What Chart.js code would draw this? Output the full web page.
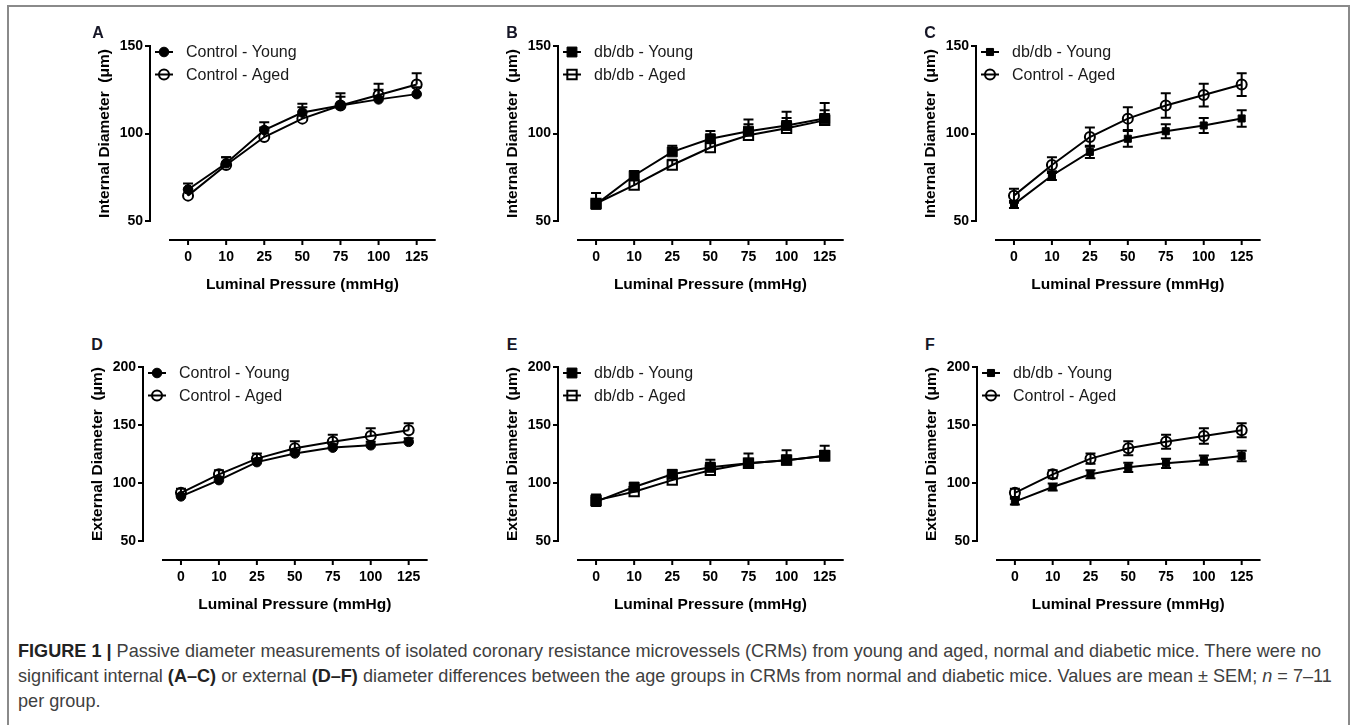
<!DOCTYPE html>
<html>
<head>
<meta charset="utf-8">
<script src="https://cdn.jsdelivr.net/npm/chart.js@4.4.1/dist/chart.umd.min.js"></script>
<style>
  html, body { margin: 0; padding: 0; background: #fff; }
  body { width: 1357px; height: 725px; position: relative; overflow: hidden; font-family: "Liberation Sans", Arial, sans-serif; }
  .frame { position: absolute; left: 7px; top: 5px; width: 1343px; height: 760px; border: 2px solid #8a8a8a; box-sizing: border-box; }
  .panel { position: absolute; }
  .letter { position: absolute; font: bold 16px "Liberation Sans", Arial, sans-serif; color: #161626; line-height: 20px; height: 20px; width: 20px; text-align: center; }
  .caption { position: absolute; left: 18px; top: 639px; font-size: 18.1px; line-height: 25px; color: #404040; white-space: nowrap; }
  .caption b { color: #222; }
</style>
</head>
<body>
<div class="frame"></div>
<div id="panels"></div>
<div class="caption">
  <b>FIGURE 1 |</b> Passive diameter measurements of isolated coronary resistance microvessels (CRMs) from young and aged, normal and diabetic mice. There were no<br>
  significant internal <b>(A–C)</b> or external <b>(D–F)</b> diameter differences between the age groups in CRMs from normal and diabetic mice. Values are mean ± SEM; <i>n</i> = 7–11<br>
  per group.
</div>
<script>
'use strict';

// ── data (µm) ──
const pressures = ['0', '10', '25', '50', '75', '100', '125'];

const ctrlYoungInt    = [68, 83, 102, 112, 116, 119.5, 122.5];
const ctrlYoungIntSem = [3.5, 3.5, 4.5, 5, 5, 5.5, 4];
const ctrlAgedInt     = [64.5, 82, 98, 108.5, 116, 122, 128];
const ctrlAgedIntSem  = [4, 4.5, 5.5, 6.5, 7, 6.5, 6.5];
const dbYoungInt      = [59.5, 76, 89.5, 97, 101.3, 104.6, 108.6];
const dbYoungIntSem   = [2, 2.5, 3.5, 4.5, 4, 4.3, 4.7];
const dbAgedInt       = [60, 70.5, 82, 92, 99, 103, 107.5];
const dbAgedIntSem    = [6, 3, 3, 4, 9, 9.5, 10];

const ctrlYoungExt    = [88.5, 102.5, 118, 125.5, 130.5, 132.5, 135.5];
const ctrlYoungExtSem = [2, 2.5, 3, 3, 3, 3, 3];
const ctrlAgedExt     = [91.5, 107.5, 121, 130, 135.5, 140.5, 145.5];
const ctrlAgedExtSem  = [3.5, 3.5, 4.5, 6, 6, 6.6, 6];
const dbYoungExt      = [84, 96.5, 107.5, 113.5, 117, 119.7, 123.2];
const dbYoungExtSem   = [2.5, 3, 3.5, 4, 4, 4, 4.5];
const dbAgedExt       = [85, 92.5, 102.5, 111, 117, 119.7, 123.5];
const dbAgedExtSem    = [5, 3, 3, 9, 8.5, 8.6, 8.6];

const internalTicks = [50, 100, 150];
const externalTicks = [50, 100, 150, 200];

// ── marker looks (Prism style) ──
const mk = {
  ctrlYoung: { pointStyle: 'circle', pointRadius: 4.8, pointBorderWidth: 1, pointBackgroundColor: '#000' },
  ctrlAged:  { pointStyle: 'circle', pointRadius: 5,   pointBorderWidth: 2, pointBackgroundColor: 'rgba(0,0,0,0)' },
  dbYoung:   { pointStyle: 'rect',   pointRadius: 7,   pointBorderWidth: 1, pointBackgroundColor: '#000' },
  dbAged:    { pointStyle: 'rect',   pointRadius: 6.6, pointBorderWidth: 2, pointBackgroundColor: 'rgba(0,0,0,0)' },
  dbYoungSm: { pointStyle: 'rect',   pointRadius: 5,   pointBorderWidth: 1, pointBackgroundColor: '#000' }
};

function ser(label, data, sem, look) {
  return Object.assign({ label, data, sem, borderColor: '#000', borderWidth: 2, pointBorderColor: '#000', tension: 0, fill: false }, look);
}

// axisX/top/right/bottom = wanted chart-area edges on the page
const panels = [
  { letter: 'A', lx: 98,  ly: 33,  axisX: 150,   top: 45.7,  right: 442,  bottom: 221,   ticks: internalTicks, title: 'Internal Diameter  (μm)', both: false,
    sets: [ser('Control - Young', ctrlYoungInt, ctrlYoungIntSem, mk.ctrlYoung), ser('Control - Aged', ctrlAgedInt, ctrlAgedIntSem, mk.ctrlAged)] },
  { letter: 'B', lx: 512, ly: 33,  axisX: 557.7, top: 45.7,  right: 850,  bottom: 221,   ticks: internalTicks, title: 'Internal Diameter  (μm)', both: false,
    sets: [ser('db/db - Young', dbYoungInt, dbYoungIntSem, mk.dbYoung), ser('db/db - Aged', dbAgedInt, dbAgedIntSem, mk.dbAged)] },
  { letter: 'C', lx: 930, ly: 33,  axisX: 976,   top: 45.7,  right: 1267, bottom: 221,   ticks: internalTicks, title: 'Internal Diameter  (μm)', both: true,
    sets: [ser('db/db - Young', dbYoungInt, dbYoungIntSem, mk.dbYoungSm), ser('Control - Aged', ctrlAgedInt, ctrlAgedIntSem, mk.ctrlAged)] },
  { letter: 'D', lx: 97,  ly: 345, axisX: 143,   top: 366.7, right: 434,  bottom: 540.7, ticks: externalTicks, title: 'External Diameter  (μm)', both: false,
    sets: [ser('Control - Young', ctrlYoungExt, ctrlYoungExtSem, mk.ctrlYoung), ser('Control - Aged', ctrlAgedExt, ctrlAgedExtSem, mk.ctrlAged)] },
  { letter: 'E', lx: 512, ly: 345, axisX: 557.7, top: 366.7, right: 850,  bottom: 540.7, ticks: externalTicks, title: 'External Diameter  (μm)', both: false,
    sets: [ser('db/db - Young', dbYoungExt, dbYoungExtSem, mk.dbYoung), ser('db/db - Aged', dbAgedExt, dbAgedExtSem, mk.dbAged)] },
  { letter: 'F', lx: 930, ly: 345, axisX: 976.7, top: 366.7, right: 1267, bottom: 540.7, ticks: externalTicks, title: 'External Diameter  (μm)', both: true,
    sets: [ser('db/db - Young', dbYoungExt, dbYoungExtSem, mk.dbYoungSm), ser('Control - Aged', ctrlAgedExt, ctrlAgedExtSem, mk.ctrlAged)] }
];

const Y_W = 62, X_H = 82, PAD_T = 12, PAD_R = 14, X_GAP = 19;

function marker(ctx, style, r, bw, fillCol, x, y) {
  ctx.save();
  ctx.beginPath();
  if (style === 'rect') { const s = Math.SQRT1_2 * r; ctx.rect(x - s, y - s, 2 * s, 2 * s); }
  else ctx.arc(x, y, r, 0, Math.PI * 2);
  ctx.fillStyle = fillCol; ctx.fill();
  ctx.lineWidth = bw; ctx.strokeStyle = '#000'; ctx.stroke();
  ctx.restore();
}

// Prism look: detached x axis, error bars, line+marker legend
const prismPlugin = {
  id: 'prism',
  afterLayout(chart) {
    const x = chart.scales.x;
    x.left = chart.chartArea.left + X_GAP;
    x.width = x.right - x.left;
    x.configure();
  },
  beforeDatasetsDraw(chart) {
    const { ctx, scales: { x, y } } = chart;
    const both = chart.options.plugins.prism.both;
    ctx.save();
    ctx.strokeStyle = '#000'; ctx.lineWidth = 2;
    chart.data.datasets.forEach(ds => {
      ds.data.forEach((v, j) => {
        const px = x.getPixelForValue(j);
        const top = y.getPixelForValue(v + ds.sem[j]);
        const bot = both ? y.getPixelForValue(v - ds.sem[j]) : y.getPixelForValue(v);
        ctx.beginPath();
        ctx.moveTo(px, top); ctx.lineTo(px, bot);
        ctx.moveTo(px - 5, top); ctx.lineTo(px + 5, top);
        if (both) { ctx.moveTo(px - 5, bot); ctx.lineTo(px + 5, bot); }
        ctx.stroke();
      });
    });
    ctx.restore();
  },
  afterDraw(chart) {
    const { ctx, chartArea: ca, scales: { x } } = chart;
    ctx.save();
    // x axis line + downward ticks
    const ay = ca.bottom + X_GAP;
    ctx.strokeStyle = '#000'; ctx.lineWidth = 2;
    ctx.beginPath();
    ctx.moveTo(x.left, ay); ctx.lineTo(x.right, ay);
    x.ticks.forEach((t, i) => { const px = x.getPixelForTick(i); ctx.moveTo(px, ay); ctx.lineTo(px, ay + 5); });
    ctx.stroke();
    // legend
    chart.data.datasets.forEach((ds, i) => {
      const ly = ca.top + 6 + i * 22.5;
      const lx = ca.left + 5;
      ctx.strokeStyle = '#000'; ctx.lineWidth = 2;
      ctx.beginPath(); ctx.moveTo(lx, ly); ctx.lineTo(lx + 18, ly); ctx.stroke();
      marker(ctx, ds.pointStyle, ds.pointRadius, ds.pointBorderWidth, ds.pointBackgroundColor, lx + 9, ly);
      ctx.fillStyle = '#1a1a1a';
      ctx.font = '16px "Liberation Sans", Arial, sans-serif';
      ctx.textBaseline = 'middle'; ctx.textAlign = 'left';
      ctx.fillText(ds.label, ca.left + 36, ly + 1);
    });
    ctx.restore();
  }
};

const host = document.getElementById('panels');
panels.forEach(p => {
  const left = p.axisX - Y_W, top = p.top - PAD_T;
  const w = Math.round(p.right - left + PAD_R), h = Math.round(p.bottom + X_H - top);
  const wrap = document.createElement('div');
  wrap.className = 'panel';
  wrap.style.left = left + 'px'; wrap.style.top = top + 'px';
  wrap.style.width = w + 'px'; wrap.style.height = h + 'px';
  const cv = document.createElement('canvas');
  cv.width = w; cv.height = h;
  wrap.appendChild(cv);
  host.appendChild(wrap);

  const let_ = document.createElement('div');
  let_.className = 'letter';
  let_.textContent = p.letter;
  let_.style.left = (p.lx - 10) + 'px'; let_.style.top = (p.ly - 10) + 'px';
  document.body.appendChild(let_);

  const tickFont = { family: '"Liberation Sans", Arial, sans-serif', size: 14, weight: 'bold' };
  const titleFont = { family: '"Liberation Sans", Arial, sans-serif', size: 15.5, weight: 'bold' };

  new Chart(cv, {
    type: 'line',
    data: { labels: pressures, datasets: p.sets },
    plugins: [prismPlugin],
    options: {
      responsive: false,
      animation: false,
      events: [],
      layout: { padding: { top: PAD_T, right: PAD_R, left: 0, bottom: 0 } },
      plugins: { legend: { display: false }, tooltip: { enabled: false }, prism: { both: p.both } },
      scales: {
        x: {
          type: 'category',
          offset: true,
          grid: { display: false, drawTicks: false },
          border: { display: false },
          ticks: { color: '#000', font: tickFont, padding: 28, maxRotation: 0, autoSkip: false },
          title: { display: true, text: 'Luminal Pressure (mmHg)', color: '#000', font: titleFont, padding: { top: 0, bottom: 9 } },
          afterFit: s => { s.height = X_H; }
        },
        y: {
          min: p.ticks[0],
          max: p.ticks[p.ticks.length - 1],
          afterBuildTicks: s => { s.ticks = p.ticks.map(v => ({ value: v })); },
          grid: { display: true, drawOnChartArea: false, drawTicks: true, tickLength: 5, color: '#000', lineWidth: 2 },
          border: { display: true, color: '#000', width: 2 },
          ticks: { color: '#000', font: tickFont, padding: 2 },
          title: { display: true, text: p.title, color: '#000', font: titleFont, padding: { top: 7, bottom: 0 } },
          afterFit: s => { s.width = Y_W; }
        }
      }
    }
  });
});
</script>
</body>
</html>
